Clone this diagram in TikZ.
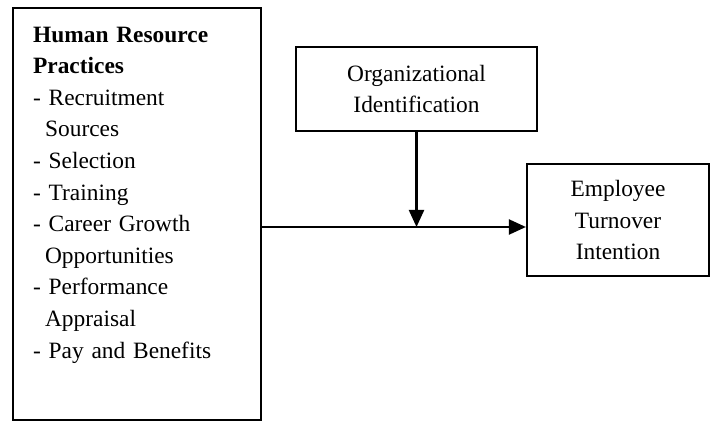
\documentclass[tikz,border=0pt]{standalone}
\usepackage{fontspec}
\setmainfont{Liberation Serif}
\usetikzlibrary{arrows.meta}

\begin{document}
\begin{tikzpicture}[x=0.5pt, y=-0.5pt]
\tikzset{boite/.style={draw, line width=1.1pt, font=\fontsize{11.7}{15.8}\selectfont, align=center},
  fleche/.style={line width=1.1pt, -{Triangle[length=8.5pt, width=7.5pt]}}}
\useasboundingbox (0,0) rectangle (715,421);
\node[boite, anchor=north west, align=left, text width=104pt, inner xsep=10pt, inner ysep=8pt, text height=9pt, text depth=181pt] (HRP) at (12,7)
  {\textbf{Human Resource}\\ \textbf{Practices}\\ - Recruitment\\ \hspace*{6pt}Sources\\ - Selection\\ - Training\\ - Career Growth\\ \hspace*{6pt}Opportunities\\ - Performance\\ \hspace*{6pt}Appraisal\\ - Pay and Benefits};
\node[boite, minimum width=120.5pt, minimum height=42pt] (OI) at (416.5,89) {Organizational\\Identification};
\node[boite, minimum width=91pt, minimum height=56pt] (ETI) at (618,220) {Employee\\Turnover\\Intention};
\coordinate (J) at (416.5,227);
\draw[fleche] (HRP.east |- J) -- (ETI.west |- J);
\draw[fleche] (OI.south) -- (J);
\end{tikzpicture}
\end{document}
